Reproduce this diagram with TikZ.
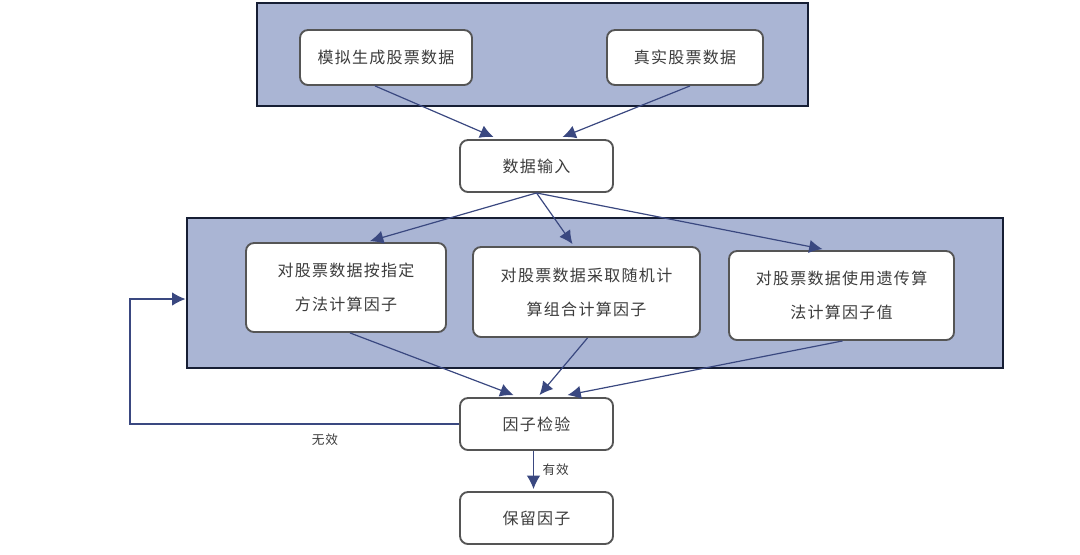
\documentclass[tikz,border=0pt]{standalone}
\usepackage{fontspec}
\usepackage{tikz}
\usetikzlibrary{positioning,calc,arrows.meta}
\newfontfamily\cjk[LetterSpace=8]{Noto Sans CJK SC}
\definecolor{panelblue}{RGB}{170,181,212}
\definecolor{panelnavy}{RGB}{22,30,52}
\definecolor{arrowblue}{RGB}{58,72,128}
\definecolor{boxgray}{RGB}{85,85,85}
\definecolor{textgray}{RGB}{60,60,60}
\tikzset{
  panel/.style={draw=panelnavy, line width=2.2pt, fill=panelblue, inner sep=0pt},
  stepbox/.style={draw=boxgray, line width=1.4pt, fill=white, rounded corners=6pt,
    align=center, font=\cjk\fontsize{12}{25.5}\selectfont, text=textgray, inner sep=0pt},
  flow/.style={-{Latex[length=10pt,width=10pt]}, draw=arrowblue, line width=0.9pt},
  tag/.style={font=\cjk\fontsize{9.5}{11}\selectfont, text=textgray}
}
\begin{document}
\begin{tikzpicture}[x=0.75pt, y=-0.75pt]
    \useasboundingbox (0,0) rectangle (1080,554);
    % panels
    \node[panel, minimum width=413.25pt, minimum height=77.25pt] (toppanel) at (532.5,54.5) {};
    \node[panel, minimum width=612pt, minimum height=112.5pt] (midpanel) at (595,293) {};
    % boxes
    \node[stepbox, minimum width=129pt, minimum height=41.25pt] (sim) at (386,57.5) {模拟生成股票数据};
    \node[stepbox, minimum width=117pt, minimum height=41.25pt] (real) at (685,57.5) {真实股票数据};
    \node[stepbox, minimum width=114.75pt, minimum height=39pt] (inp) at (536.5,166) {数据输入};
    \node[stepbox, minimum width=150pt, minimum height=66.75pt] (fix) at (346,287.5) {对股票数据按指定\\方法计算因子};
    \node[stepbox, minimum width=170.25pt, minimum height=67.5pt] (rand) at (586.5,292) {对股票数据采取随机计\\算组合计算因子};
    \node[stepbox, minimum width=168.75pt, minimum height=66.75pt] (gen) at (841.5,295.5) {对股票数据使用遗传算\\法计算因子值};
    \node[stepbox, minimum width=114.75pt, minimum height=39pt] (chk) at (536.5,424) {因子检验};
    \node[stepbox, minimum width=114.75pt, minimum height=39pt] (keep) at (536.5,518) {保留因子};
    % connectors
    \draw[flow] ($(sim.south)+(-11,0)$) -- ($(inp.north)+(-43,-2)$);
    \draw[flow] ($(real.south)+(5,0)$) -- ($(inp.north)+(26,-2)$);
    \draw[flow] (inp.south) -- ($(fix.north)+(24,-1)$);
    \draw[flow] (inp.south) -- ($(rand.north)+(-14,-2)$);
    \draw[flow] (inp.south) -- ($(gen.north)+(-19,-1)$);
    \draw[flow] ($(fix.south)+(4,0)$) -- ($(chk.north)+(-23,-2)$);
    \draw[flow] ($(rand.south)+(1,0)$) -- ($(chk.north)+(3,-2)$);
    \draw[flow] ($(gen.south)+(1,0)$) -- ($(chk.north)+(31,-2)$);
    \coordinate (loop) at (130,424);
    \draw[flow] (chk.west) -- (loop) |- ($(midpanel.west)+(0,6)$);
    \node[tag] at (325,440) {无效};
    \draw[flow] ($(chk.south)+(-3,0)$) -- ($(keep.north)+(-3,-2)$) node[tag, midway, right=3pt] {有效};
\end{tikzpicture}
\end{document}
